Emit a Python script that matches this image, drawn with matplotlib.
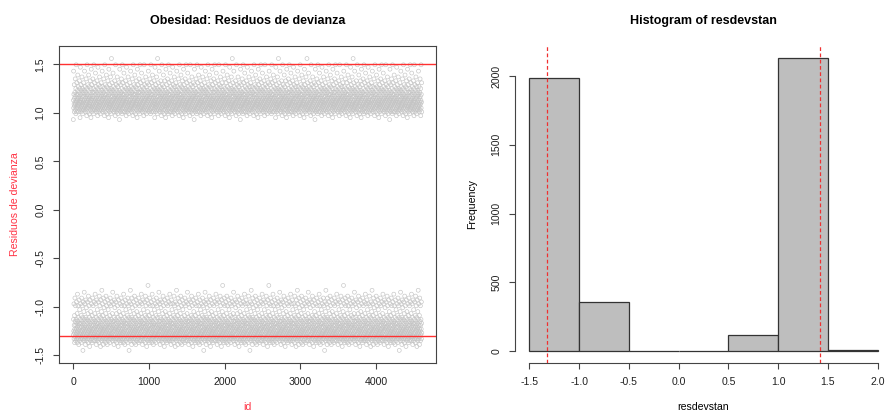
import numpy as np
import matplotlib.pyplot as plt

plt.rcParams['font.family'] = ['Liberation Sans', 'DejaVu Sans']

# residual levels, with how many ids sit on each level
pos_levels = [0.93, 0.95, 0.97, 0.99,
              1.01, 1.03, 1.05, 1.07, 1.09, 1.11, 1.13, 1.15, 1.17, 1.19,
              1.21, 1.23, 1.25, 1.27, 1.29, 1.31, 1.33, 1.35, 1.37, 1.39,
              1.41, 1.43, 1.45, 1.47, 1.495, 1.56]
pos_counts = [6, 18, 35, 60,
              110, 135, 155, 165, 170, 170, 155, 145, 130, 118,
              104, 92, 80, 68, 58, 48, 40, 32, 26, 20,
              16, 20, 18, 14, 45, 6]
neg_levels = [-1.45, -1.41, -1.39, -1.37, -1.35, -1.33, -1.31, -1.29, -1.27, -1.25,
              -1.23, -1.21, -1.19, -1.17, -1.15, -1.13, -1.11, -1.09, -1.07, -1.05,
              -1.03, -1.01, -0.99, -0.97, -0.95, -0.93, -0.91, -0.89, -0.87, -0.85,
              -0.83, -0.78]
neg_counts = [6, 20, 45, 70, 110, 150, 170, 160, 150, 155,
              145, 135, 125, 115, 105, 95, 70, 50, 40, 30,
              24, 18, 70, 65, 60, 55, 40, 30, 18, 10,
              8, 4]

# reference lines
hline_vals = [1.5, -1.3]
vline_vals = [-1.326, 1.424]
hist_bins = [-1.5, -1.0, -0.5, 0.0, 0.5, 1.0, 1.5, 2.0]

values = np.concatenate([np.repeat(pos_levels, pos_counts),
                         np.repeat(neg_levels, neg_counts)])
n = len(values)
# spread the levels over the ids in a fixed interleaved order
order = np.argsort((np.arange(n) * 0.6180339887) % 1.0)
resdevstan = np.empty(n)
resdevstan[order] = values
ids = np.arange(1, n + 1)

fig = plt.figure(figsize=(8.88, 4.16), dpi=100)
ax1 = fig.add_axes([0.0668, 0.1281, 0.4239, 0.7613])
ax2 = fig.add_axes([0.5805, 0.1281, 0.4235, 0.7613])

axis_col = '#444444'
tick_kw = dict(labelsize=7.6, length=4.3, width=0.8, color=axis_col,
               labelcolor='#222222', pad=5.8)

# left: residuals by id
ax1.scatter(ids, resdevstan, s=8, facecolors='none', edgecolors='#C4C4C4',
            linewidths=0.45)
for h in hline_vals:
    ax1.axhline(h, color='#FF3030', lw=1.0)
ax1.set_xlim(-184, 4791)
ax1.set_ylim(-1.577, 1.689)
ax1.set_xticks([0, 1000, 2000, 3000, 4000])
ax1.set_yticks([-1.5, -1.0, -0.5, 0.0, 0.5, 1.0, 1.5])
ax1.set_yticklabels(['-1.5', '-1.0', '-0.5', '0.0', '0.5', '1.0', '1.5'])
ax1.tick_params(**tick_kw)
ax1.tick_params(axis='y', labelrotation=90)
for lab in ax1.get_yticklabels():
    lab.set_va('center')
for sp in ax1.spines.values():
    sp.set_color(axis_col)
    sp.set_linewidth(0.8)
ax1.set_title('Obesidad: Residuos de devianza', fontsize=9, fontweight='bold', pad=16)
ax1.set_xlabel('id', color='#FF3344', fontsize=7.6)
ax1.set_ylabel('Residuos de devianza', color='#FF3344', fontsize=7.6)
ax1.xaxis.set_label_coords(0.5, -0.125)
ax1.yaxis.set_label_coords(-0.104, 0.5)

# right: histogram
ax2.hist(resdevstan, bins=hist_bins, color='#BEBEBE', edgecolor='#333333', linewidth=0.9)
for v in vline_vals:
    ax2.axvline(v, color='#F03030', lw=0.9, ls=(0, (3, 2)))
ax2.set_xlim(-1.64, 2.14)
ax2.set_ylim(-85, 2219)
ax2.set_xticks([-1.5, -1.0, -0.5, 0.0, 0.5, 1.0, 1.5, 2.0])
ax2.set_xticklabels(['-1.5', '-1.0', '-0.5', '0.0', '0.5', '1.0', '1.5', '2.0'])
ax2.set_yticks([0, 500, 1000, 1500, 2000])
ax2.tick_params(**tick_kw)
ax2.tick_params(axis='y', labelrotation=90)
for lab in ax2.get_yticklabels():
    lab.set_va('center')
ax2.spines['top'].set_visible(False)
ax2.spines['right'].set_visible(False)
ax2.spines['left'].set_bounds(0, 2000)
ax2.spines['bottom'].set_bounds(-1.5, 2.0)
for sp in ('left', 'bottom'):
    ax2.spines[sp].set_color(axis_col)
    ax2.spines[sp].set_linewidth(0.8)
ax2.set_title('Histogram of resdevstan', fontsize=9, fontweight='bold', pad=16)
ax2.set_xlabel('resdevstan', fontsize=7.6)
ax2.set_ylabel('Frequency', fontsize=7.6)
ax2.xaxis.set_label_coords(0.5, -0.125)
ax2.yaxis.set_label_coords(-0.103, 0.5)

fig.savefig('out.png', dpi=100)
